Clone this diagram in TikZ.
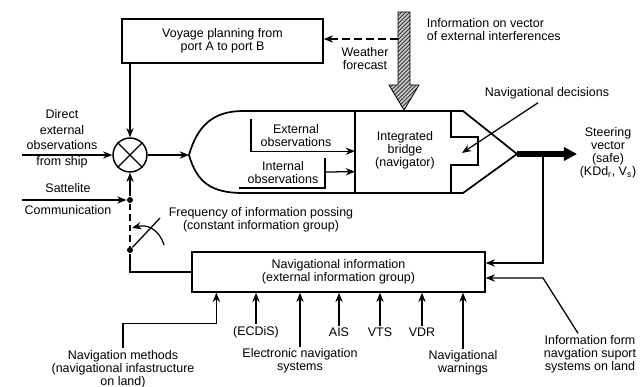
\documentclass[tikz,border=0pt]{standalone}
\usepackage{fontspec}
\setmainfont{Liberation Sans}
\usepackage{tikz}
\usetikzlibrary{calc}
\usetikzlibrary{arrows.meta}
\usetikzlibrary{positioning}
\usetikzlibrary{patterns}
\tikzset{>={Stealth[length=7pt, width=5.5pt]}}
\tikzstyle{lbl} = [draw = none, inner sep = 1, align = center, font = \fontsize{9.4}{9.8}\selectfont]
\tikzstyle{blk} = [rectangle, draw, line width = 1.1pt, inner sep = 1, align = center, font = \fontsize{9.4}{9.8}\selectfont]
\tikzstyle{dot} = [circle, fill, inner sep = 0, minimum size = 4.5pt]

\begin{document}
\begin{tikzpicture}[x = 0.0265cm, y = -0.0265cm, line width = 0.95pt]
\useasboundingbox (0, 0) rectangle (641, 386);
% boxes
\node [blk, minimum width = 5.33cm, minimum height = 1.17cm] (voyage) at (222.5, 41) {Voyage planning from\\port A to port B};
\node [blk, minimum width = 7.76cm, minimum height = 1.06cm] (navinfo) at (338.5, 272) {Navigational information\\(external information group)};
\node [circle, draw, line width = 1.1pt, minimum size = 0.9cm] (sum) at (130, 155) {};
\draw (sum.north east) -- (sum.south west);
\draw (sum.north west) -- (sum.south east);
% ship
\coordinate (bow) at (189, 155);
\coordinate (stern) at (517, 154);
\coordinate (divtop) at (355, 111);
\coordinate (divbot) at (355, 193);
\draw [line width = 1.3pt] (bow) .. controls (197, 127) and (212, 111) .. (243, 111) -- (463, 111) -- (stern) -- (463, 193) -- (243, 193) .. controls (212, 193) and (197, 183) .. (bow);
\draw [line width = 1.9pt] (divtop) -- (divbot);
\draw [line width = 1.3pt] (451, 111) -- (451, 137) -- (478, 137) -- (478, 165) -- (451, 165) -- (451, 193);
\node [lbl] (bridge) at (405, 150) {Integrated\\bridge\\(navigator)};
\node [lbl] (extobs) at (296, 136) {External\\observations};
\node [lbl] (intobs) at (283, 173) {Internal\\observations};
\coordinate (ext0) at (251, 119);
\coordinate (int0) at (239, 188);
\coordinate (int1) at (325, 158);
\draw [->] (ext0) |- ($(divtop)!0.49!(divbot)$);
\draw (int0) -| (int1);
\draw [->] ($(int0 -| int1)+(0, -16)$) -- ($(divtop)!0.74!(divbot)$);
% external interferences
\fill [gray!45] (398, 12) -- (410, 12) -- (410, 85) -- (419, 85) -- (404, 110) -- (389, 85) -- (398, 85) -- cycle;
\path [pattern = north east lines] (398, 12) -- (410, 12) -- (410, 85) -- (419, 85) -- (404, 110) -- (389, 85) -- (398, 85) -- cycle;
\draw [line width = 0.6pt] (398, 12) -- (410, 12) -- (410, 85) -- (419, 85) -- (404, 110) -- (389, 85) -- (398, 85) -- cycle;
\node [lbl, align = left, anchor = west] (interf) at (425, 30) {Information on vector\\of external interferences};
\coordinate (wx) at (398, 39);
\draw [->, dash pattern = on 6pt off 3pt] (wx) -- (wx -| voyage.east);
\node [lbl] (weather) at (365, 59) {Weather\\forecast};
\node [lbl] (navdec) at (547, 93) {Navigational decisions};
\coordinate (decpt) at (462, 153);
\draw [->] ($(navdec.south)+(-9, 2)$) -- (decpt);
% inputs on the left
\draw [->] (voyage.south -| sum) -- (sum.north);
\draw [->] (sum.east) -- (bow);
\node [lbl, font = \fontsize{9.4}{11.7}\selectfont] (direct) at (62, 139) {Direct\\external\\observations\\from ship};
\coordinate (dirin) at (22, 155);
\draw [->] (dirin) -- (sum.west);
\node [dot] (d1) at (130, 200) {};
\node [dot] (d2) at (130, 250) {};
\node [lbl, font = \fontsize{9.4}{16.5}\selectfont] (sat) at (68, 199) {Sattelite\\Communication};
\coordinate (satin) at (22, 200);
\draw [->] (satin) -- (d1);
\draw [->] (d1) -- (sum.south);
\draw [line width = 1.4pt, dash pattern = on 5pt off 3pt] (d1) -- (d2);
\coordinate (sw) at (160, 218);
\coordinate (arcs) at (164, 245);
\draw (d2) -- (sw);
\draw [->] (arcs) .. controls (159, 229) and (147, 224) .. (132, 228);
\node [lbl] (freq) at (261, 220) {Frequency of information possing\\(constant information group)};
\draw (d2) |- (navinfo.west);
% steering vector
\coordinate (steer) at (577, 154);
\draw [line width = 4.5pt, -{Triangle[length = 10pt, width = 10pt]}] (stern) -- (steer);
\node [lbl] (steering) at (608, 153) {Steering\\vector\\(safe)\\(KDd\textsubscript{r}, V\textsubscript{s})};
\coordinate (fb) at (543, 154);
\draw [->] (fb) |- ($(navinfo.east)+(0, -9)$);
\node [lbl] (infoform) at (590, 354) {Information form\\navgation suport\\systems on land};
\draw [->] ($(infoform.north)+(-12, 0)$) -- (543, 278) -- ($(navinfo.east)+(0, 6)$);
% inputs below
\node [lbl] (navmeth) at (123, 369) {Navigation methods\\(navigational infastructure\\on land)};
\node [lbl] (ecdis) at (256, 332) {(ECDiS)};
\node [lbl] (elec) at (300, 361) {Electronic navigation\\systems};
\node [lbl] (ais) at (339, 332) {AIS};
\node [lbl] (vts) at (380, 332) {VTS};
\node [lbl] (vdr) at (422, 332) {VDR};
\node [lbl] (warn) at (463, 363) {Navigational\\warnings};
\draw [->] (navmeth.north) |- ($(navinfo.south west)+(25, 31)$) -- ($(navinfo.south west)+(25, 0)$);
\foreach \s in {ecdis, elec, ais, vts, vdr, warn}
  \draw [->] (\s.north) -- (\s.north |- navinfo.south);
\end{tikzpicture}
\end{document}
